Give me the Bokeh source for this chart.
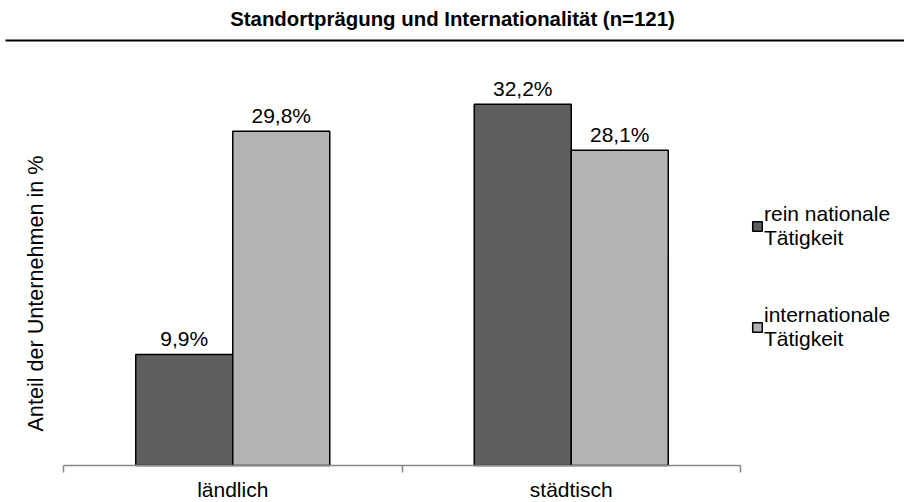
from bokeh.plotting import figure
from bokeh.models import (ColumnDataSource, FixedTicker, Legend, LegendItem,
                          Range1d, LinearAxis)
from bokeh.transform import dodge
from bokeh.core.properties import value
from bokeh.embed import file_html
from bokeh.resources import INLINE

# ---------------- data ----------------
title_text = "Standortprägung und Internationalität (n=121)"
categories = ["ländlich", "städtisch"]
national = [9.9, 32.2]
international = [29.8, 28.1]
series_names = ["rein nationale\nTätigkeit", "internationale\nTätigkeit"]
y_axis_label = "Anteil der Unternehmen in %"

# ---------------- style / layout ----------------
FONT = "Liberation Sans"
FS = "21px"
DARK = "#5f5f5f"
LIGHT = "#b3b3b3"
AXIS_GREY = "#878787"
W, H = 904, 502
X0_PX = 63        # left end of the category axis
CAT_PX = 338.5    # width of one category
BASE_PX = 465     # pixel row of the value 0
UNIT_PX = 11.22   # pixels per percent


def px_x(px):
    return (px - X0_PX) / CAT_PX


def px_y(py):
    return (BASE_PX - py) / UNIT_PX


p = figure(width=W, height=H, output_backend="svg", toolbar_location=None,
           x_range=Range1d(px_x(0), px_x(W)), y_range=Range1d(px_y(H), px_y(0)),
           x_axis_location=None, y_axis_location=None, min_border=0)
p.outline_line_color = None
for g in p.grid:
    g.visible = False

# title and rule under it
p.text(x=[px_x(452)], y=[px_y(18)], text=[title_text], text_align="center",
       text_baseline="middle", text_font=value(FONT), text_font_style="bold",
       text_font_size="20.4px", text_color="black")
p.segment(x0=[px_x(5)], y0=[px_y(40)], x1=[px_x(W)], y1=[px_y(40)],
          line_width=2, line_color="black")

# bars
fmt = lambda v: f"{v:.1f}".replace(".", ",") + "%"
cat_x = [i + 0.5 for i in range(len(categories))]
source = ColumnDataSource(dict(
    x=cat_x, national=national, international=international,
    nat_lbl=[fmt(v) for v in national], int_lbl=[fmt(v) for v in international]))

BW = 0.2866
OFF = BW / 2
r1 = p.vbar(x=dodge("x", -OFF, range=p.x_range), top="national", bottom=0, width=BW,
            fill_color=DARK, line_color="black", line_width=1.5, source=source)
r2 = p.vbar(x=dodge("x", OFF, range=p.x_range), top="international", bottom=0, width=BW,
            fill_color=LIGHT, line_color="black", line_width=1.5, source=source)

for col, lbl, off in (("national", "nat_lbl", -OFF), ("international", "int_lbl", OFF)):
    p.text(x=dodge("x", off, range=p.x_range), y=col, text=lbl, source=source,
           text_align="center", text_baseline="alphabetic", y_offset=-16,
           text_font=value(FONT), text_font_size=FS, text_color="black")

# axes
xaxis = LinearAxis(
    fixed_location=0,
    ticker=FixedTicker(ticks=cat_x, minor_ticks=[float(i) for i in range(len(categories) + 1)]),
    bounds=(0, len(categories)),
    major_label_overrides={x: c for x, c in zip(cat_x, categories)},
    axis_line_color=AXIS_GREY, axis_line_width=1.5,
    major_tick_in=0, major_tick_out=0,
    minor_tick_in=0, minor_tick_out=7,
    minor_tick_line_color=AXIS_GREY, minor_tick_line_width=1.5,
    major_label_standoff=5,
    major_label_text_font=FONT, major_label_text_font_size=FS,
    major_label_text_color="black")
p.add_layout(xaxis, "below")

yaxis = LinearAxis(
    fixed_location=0,
    ticker=FixedTicker(ticks=[]), axis_label=y_axis_label,
    bounds=(0, px_y(121)),
    axis_line_color=None, major_tick_line_color=None, minor_tick_line_color=None,
    major_tick_in=0, major_tick_out=0, minor_tick_in=0, minor_tick_out=0,
    major_label_standoff=0, axis_label_standoff=16,
    axis_label_text_font=FONT, axis_label_text_font_size="21.6px",
    axis_label_text_font_style="normal", axis_label_text_color="black")
p.add_layout(yaxis, "left")

legend = Legend(items=[LegendItem(label=series_names[0], renderers=[r1]),
                       LegendItem(label=series_names[1], renderers=[r2])],
                location=(751, 151), orientation="vertical",
                border_line_color=None, background_fill_alpha=0,
                margin=0, padding=0, spacing=53,
                glyph_width=12, glyph_height=12, label_standoff=1,
                label_text_font=FONT, label_text_font_size=FS,
                label_text_color="black", label_text_line_height=1.05)
p.add_layout(legend)

open("out.html", "w").write(file_html(p, INLINE))
